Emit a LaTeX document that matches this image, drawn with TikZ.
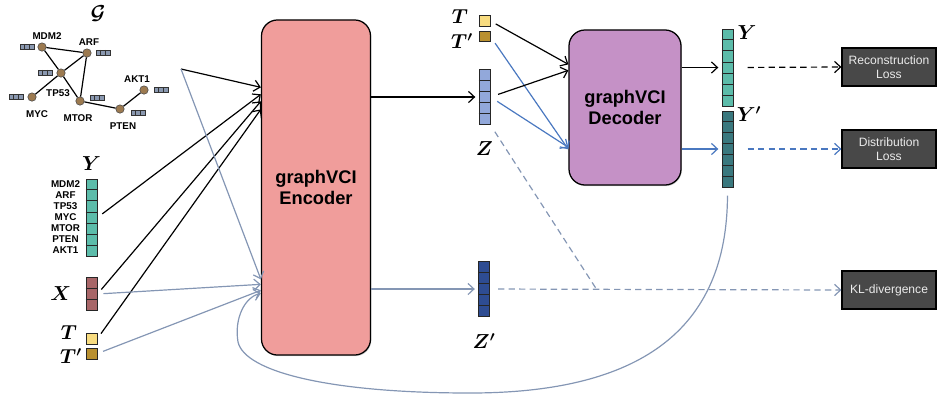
\documentclass[tikz,border=0pt]{standalone}
\usepackage{amsmath}
\usepackage{amssymb}
\usepackage{bm}
\usepackage{fontspec}
\setmainfont{Liberation Sans}
\usetikzlibrary{arrows.meta, positioning, calc, shadows}
\definecolor{encred}{RGB}{240,157,155}
\definecolor{decpurple}{RGB}{197,145,198}
\definecolor{geneteal}{RGB}{92,188,170}
\definecolor{darkteal}{RGB}{58,120,126}
\definecolor{pertred}{RGB}{168,102,104}
\definecolor{tyellow}{RGB}{248,220,128}
\definecolor{tbrown}{RGB}{185,144,48}
\definecolor{zlight}{RGB}{146,168,218}
\definecolor{zdark}{RGB}{46,76,146}
\definecolor{slate}{RGB}{132,150,180}
\definecolor{flowblue}{RGB}{74,120,192}
\definecolor{lossgray}{RGB}{72,72,72}
\definecolor{nodebrown}{RGB}{156,122,80}
\definecolor{embgray}{RGB}{138,152,176}
\tikzstyle{block} = [rectangle, rounded corners=0.4cm, draw=black, line width=0.9pt, align=center, font=\fontsize{13}{15}\selectfont\bfseries, drop shadow={opacity=0.35, shadow xshift=0.6pt, shadow yshift=-0.8pt}]
\tikzstyle{encoder} = [block, fill=encred, minimum width=2.725cm, minimum height=8.375cm]
\tikzstyle{decoder} = [block, fill=decpurple, minimum width=2.8cm, minimum height=3.875cm]
\tikzstyle{loss} = [rectangle, draw=black, line width=0.8pt, fill=lossgray, text=white!92!black, font=\fontsize{8.6}{10}\selectfont, align=center, minimum width=2.35cm, minimum height=0.95cm, inner sep=1pt]
\tikzstyle{cellvec} = [rectangle, draw=black!85, line width=0.7pt, minimum width=0.275cm, inner sep=0pt]
\tikzstyle{gene} = [circle, draw=black!70, fill=nodebrown, minimum size=0.21cm, inner sep=0pt]
\tikzstyle{genelabel} = [font=\fontsize{7}{8}\selectfont\bfseries, inner sep=0pt]
\tikzstyle{emb} = [rectangle, draw=black!80, line width=0.6pt, fill=embgray, minimum width=0.35cm, minimum height=0.13cm, inner sep=0pt]
\tikzstyle{mathlabel} = [font=\fontsize{14}{16}\selectfont, inner sep=0pt]
\tikzstyle{arr} = [-{Straight Barb[length=1.5mm, width=2.8mm]}, line width=0.85pt]
\tikzstyle{dashflow} = [dash pattern=on 4.5pt off 3pt]
\newcommand{\splitcells}[2]{%
  \pgfmathtruncatemacro{\lastcut}{#2-1}
  \foreach \k in {1,...,\lastcut}
    \draw [black!85, line width=0.5pt] ($(#1.north west)!\k/#2!(#1.south west)$) -- ($(#1.north east)!\k/#2!(#1.south east)$);
}
\newcommand{\splitwide}[2]{%
  \pgfmathtruncatemacro{\lastcut}{#2-1}
  \foreach \k in {1,...,\lastcut}
    \draw [black!80, line width=0.5pt] ($(#1.north west)!\k/#2!(#1.north east)$) -- ($(#1.south west)!\k/#2!(#1.south east)$);
}

\begin{document}
\begin{tikzpicture}[x=0.025cm, y=-0.025cm]
\useasboundingbox (0,0) rectangle (937,404);

% gene graph
\node (glab) [mathlabel] at (98,14) {$\bm{\mathcal{G}}$};
\node (mdm2) [gene] at (42,47) {};
\node (arf) [gene] at (87,53) {};
\node (tp53) [gene] at (61,73) {};
\node (myc) [gene] at (32,97) {};
\node (mtor) [gene] at (80,101) {};
\node (pten) [gene] at (120,109) {};
\node (akt1) [gene] at (144,90) {};
\draw [line width=0.85pt] (mdm2) -- (arf) (mdm2) -- (tp53) (tp53) -- (mtor) (arf) -- (tp53) (tp53) -- (myc) (arf) -- (mtor) (mtor) -- (pten) (pten) -- (akt1);
\node (mdm2lab) [genelabel] at (47,36) {MDM2};
\node (arflab) [genelabel] at (89,42) {ARF};
\node (tp53lab) [genelabel] at (58,93) {TP53};
\node (myclab) [genelabel] at (37,114) {MYC};
\node (mtorlab) [genelabel] at (78,118) {MTOR};
\node (ptenlab) [genelabel] at (123,126) {PTEN};
\node (akt1lab) [genelabel] at (137,79) {AKT1};
\node (mdm2emb) [emb] at (27,47) {};
\node (arfemb) [emb] at (103,53) {};
\node (tp53emb) [emb] at (45,73) {};
\node (mycemb) [emb] at (16,97) {};
\node (mtoremb) [emb] at (97,98) {};
\node (ptenemb) [emb] at (138,113) {};
\node (akt1emb) [emb] at (161,90) {};
\foreach \e in {mdm2emb,arfemb,tp53emb,mycemb,mtoremb,ptenemb,akt1emb}
  \splitwide{\e}{3};
\coordinate (gout) at (181,69);

% inputs
\node (Yin) [cellvec, fill=geneteal, minimum height=1.925cm] at (91.5,217.5) {};
\splitcells{Yin}{7}
\node (Yinlab) [mathlabel, above=0.2cm of Yin] {$\bm{Y}$};
\foreach \g [count=\i] in {MDM2,ARF,TP53,MYC,MTOR,PTEN,AKT1}
  \node (glab\i) [genelabel] at ($(Yin.north west)+(-20,\i*11-5.5)$) {\g};
\node (X) [cellvec, fill=pertred, minimum height=0.825cm] at (91.5,294) {};
\splitcells{X}{3}
\node (Xlab) [mathlabel, left=0.35cm of X] {$\bm{X}$};
\node (T) [cellvec, fill=tyellow, minimum height=0.275cm] at (91.5,338.5) {};
\node (Tp) [cellvec, fill=tbrown, minimum height=0.275cm] at (91.5,353.5) {};
\node (Tlab) [mathlabel] at (69,333) {$\bm{T}$};
\node (Tplab) [mathlabel] at (71,356) {$\bm{T'}$};

% encoder and decoder
\node (enc) [encoder] at (316,187.5) {graphVCI\\Encoder};
\node (dec) [decoder] at (625,107.5) {graphVCI\\Decoder};

% latents
\node (Z) [cellvec, fill=zlight, minimum height=1.375cm] at (484.5,97) {};
\splitcells{Z}{5}
\node (Zlab) [mathlabel, below=0.4cm of Z] {$\bm{Z}$};
\node (Zp) [cellvec, fill=zdark, minimum height=1.375cm] at (484,289) {};
\splitcells{Zp}{5}
\node (Zplab) [mathlabel, below=0.4cm of Zp] {$\bm{Z'}$};
\node (Tdec) [cellvec, fill=tyellow, minimum height=0.26cm] at (484.5,21) {};
\node (Tpdec) [cellvec, fill=tbrown, minimum height=0.26cm] at (484.5,36.5) {};
\node (Tdeclab) [mathlabel] at (460,17) {$\bm{T}$};
\node (Tpdeclab) [mathlabel] at (462,41) {$\bm{T'}$};

% outputs
\node (Yout) [cellvec, fill=geneteal, minimum height=1.925cm] at (727.5,67.5) {};
\splitcells{Yout}{7}
\node (Youtlab) [mathlabel] at (747,33) {$\bm{Y}$};
\node (Ypout) [cellvec, fill=darkteal, minimum height=1.9cm] at (727.5,149) {};
\splitcells{Ypout}{7}
\node (Ypoutlab) [mathlabel] at (749,114) {$\bm{Y'}$};
\node (rec) [loss] at (889,67) {Reconstruction\\Loss};
\node (dist) [loss] at (889,149) {Distribution\\Loss};
\node (kl) [loss] at (889,290) {KL-divergence};

% into the encoder
\draw [arr] (gout) -- ($(enc.north west)+(0,68)$);
\draw [arr, shorten <=0.15cm] (Yin.east) -- ($(enc.north west)+(0,75)$);
\draw [arr, shorten <=0.15cm] (X.east) -- ($(enc.north west)+(0,82)$);
\draw [arr, shorten <=0.15cm] (T.east) -- ($(enc.north west)+(0,90)$);
\draw [arr, slate] (gout) -- ($(enc.north west)+(0,260)$);
\draw [arr, slate, shorten <=0.15cm] (X.east) -- ($(enc.north west)+(0,265)$);
\draw [arr, slate, shorten <=0.15cm] (Tp.east) -- ($(enc.north west)+(0,271)$);

% encoder to latents
\draw [arr, shorten >=0.08cm] (enc.east |- Z) -- (Z.west);
\draw [arr, slate, shorten >=0.08cm] (enc.east |- Zp) -- (Zp.west);

% into the decoder
\draw [arr, shorten <=0.15cm] (Tdec.east) -- ($(dec.north west)+(0,35)$);
\draw [arr, flowblue, shorten <=0.2cm] (Tpdec.east) -- ($(dec.north west)+(0,120)$);
\draw [arr, shorten <=0.2cm] (Z.east) -- ($(dec.north west)+(0,41)$);
\draw [arr, flowblue, shorten <=0.2cm] (Z.east) -- ($(dec.north west)+(0,118)$);

% decoder to outputs
\draw [arr, shorten >=0.08cm] (dec.east |- Yout) -- (Yout.west);
\draw [arr, flowblue, shorten >=0.08cm] (dec.east |- Ypout) -- (Ypout.west);

% losses
\draw [arr, dashflow, shorten <=0.35cm] (Yout.east) -- (rec.west);
\draw [arr, flowblue, dashflow, shorten <=0.35cm] (Ypout.east) -- (dist.west);
\coordinate (klmeet) at (597,290);
\draw [slate, dashflow, line width=0.85pt, shorten <=0.2cm] (Z.south east) -- (klmeet);
\draw [arr, slate, dashflow, shorten <=0.2cm] (Zp.east) -- (kl.west);

% feedback loop
\draw [arr, slate, shorten <=0.2cm] (Ypout.south) .. controls (727,330) and (640,393) .. (470,393) .. controls (330,393) and (245,372) .. (238,342) .. controls (234,318) and (245,297) .. ($(enc.north west)+(0,274)$);
\end{tikzpicture}
\end{document}
